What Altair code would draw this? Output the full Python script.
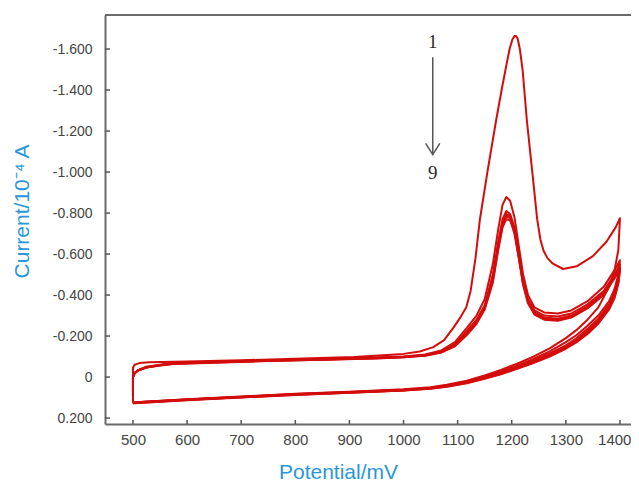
import altair as alt
import pandas as pd

# ---------------- data ----------------
# cycle 1 forward scan (potential mV, current 1e-4 A; negative = anodic, drawn upward)
c1_fwd_E = [500, 500, 503, 512, 530, 600, 700, 800, 909, 1000, 1030, 1055, 1075, 1092, 1106, 1116,
            1124, 1133, 1141, 1155, 1171, 1182, 1190, 1196, 1201, 1205, 1208, 1211, 1215, 1220, 1228,
            1238, 1247, 1253, 1259, 1266, 1276, 1295, 1320, 1350, 1375, 1392, 1400]
c1_fwd_I = [0.12, -0.045, -0.06, -0.068, -0.072, -0.076, -0.082, -0.089, -0.098, -0.113, -0.125,
            -0.146, -0.18, -0.24, -0.295, -0.34, -0.42, -0.58, -0.766, -1.0, -1.25, -1.41, -1.52,
            -1.60, -1.645, -1.663, -1.664, -1.65, -1.60, -1.50, -1.25, -1.0, -0.77, -0.67, -0.615,
            -0.58, -0.553, -0.527, -0.54, -0.59, -0.66, -0.73, -0.775]

# forward scans of cycles 2..9 share one potential grid
inner_fwd_E = [500, 500, 503, 510, 525, 550, 575, 650, 750, 850, 950, 1000, 1040, 1070, 1095, 1117,
               1135, 1150, 1165, 1175, 1183, 1190, 1197, 1205, 1213, 1221, 1230, 1242, 1260, 1285,
               1310, 1340, 1370, 1392, 1400]
c2_fwd_I = [0.124, 0.0, -0.02, -0.035, -0.05, -0.06, -0.068, -0.074, -0.082, -0.088, -0.095, -0.10,
            -0.11, -0.13, -0.17, -0.24, -0.30, -0.38, -0.55, -0.72, -0.84, -0.878, -0.86, -0.78,
            -0.64, -0.50, -0.40, -0.34, -0.315, -0.31, -0.325, -0.37, -0.44, -0.53, -0.57]
c3_fwd_I = [0.125, 0.0, -0.02, -0.034, -0.049, -0.059, -0.067, -0.073, -0.081, -0.087, -0.094, -0.099,
            -0.108, -0.126, -0.16, -0.225, -0.28, -0.35, -0.50, -0.66, -0.77, -0.81, -0.795, -0.73,
            -0.60, -0.47, -0.38, -0.325, -0.30, -0.295, -0.31, -0.355, -0.42, -0.51, -0.55]
c5_fwd_I = [0.126, 0.0, -0.019, -0.033, -0.048, -0.058, -0.066, -0.072, -0.080, -0.086, -0.093, -0.098,
            -0.106, -0.123, -0.155, -0.215, -0.27, -0.34, -0.48, -0.64, -0.75, -0.795, -0.785, -0.72,
            -0.59, -0.46, -0.37, -0.315, -0.29, -0.285, -0.30, -0.345, -0.41, -0.50, -0.535]
c7_fwd_I = [0.127, 0.0, -0.019, -0.033, -0.047, -0.057, -0.065, -0.071, -0.079, -0.085, -0.092, -0.097,
            -0.105, -0.121, -0.152, -0.21, -0.265, -0.335, -0.47, -0.63, -0.74, -0.785, -0.775, -0.71,
            -0.585, -0.455, -0.365, -0.31, -0.285, -0.28, -0.295, -0.34, -0.405, -0.495, -0.525]
c9_fwd_I = [0.128, 0.0, -0.018, -0.032, -0.046, -0.056, -0.064, -0.070, -0.078, -0.084, -0.091, -0.096,
            -0.104, -0.12, -0.15, -0.205, -0.26, -0.33, -0.46, -0.62, -0.73, -0.77, -0.765, -0.70,
            -0.58, -0.45, -0.36, -0.305, -0.28, -0.275, -0.29, -0.335, -0.40, -0.49, -0.52]

# reverse scans share one potential grid
rev_E = [1400, 1397, 1390, 1380, 1360, 1340, 1320, 1300, 1270, 1240, 1210, 1180, 1150, 1117, 1080,
         1050, 1000, 900, 800, 700, 600, 520, 500]
c1_rev_I = [-0.775, -0.62, -0.52, -0.44, -0.34, -0.28, -0.23, -0.19, -0.14, -0.10, -0.065, -0.035,
            -0.008, 0.018, 0.038, 0.05, 0.06, 0.072, 0.082, 0.095, 0.108, 0.12, 0.124]
c2_rev_I = [-0.57, -0.50, -0.43, -0.37, -0.30, -0.25, -0.205, -0.17, -0.125, -0.088, -0.056, -0.028,
            -0.003, 0.022, 0.041, 0.053, 0.062, 0.073, 0.083, 0.096, 0.109, 0.121, 0.125]
c3_rev_I = [-0.55, -0.48, -0.41, -0.355, -0.285, -0.235, -0.19, -0.155, -0.115, -0.08, -0.05, -0.022,
            0.002, 0.025, 0.043, 0.054, 0.063, 0.074, 0.084, 0.097, 0.11, 0.122, 0.126]
c5_rev_I = [-0.535, -0.47, -0.40, -0.345, -0.275, -0.225, -0.18, -0.148, -0.108, -0.075, -0.046,
            -0.019, 0.004, 0.026, 0.044, 0.055, 0.064, 0.075, 0.085, 0.098, 0.111, 0.123, 0.127]
c7_rev_I = [-0.525, -0.462, -0.392, -0.337, -0.267, -0.217, -0.175, -0.143, -0.104, -0.071, -0.043,
            -0.016, 0.006, 0.028, 0.046, 0.056, 0.065, 0.076, 0.086, 0.099, 0.112, 0.124, 0.128]
c9_rev_I = [-0.52, -0.455, -0.385, -0.33, -0.26, -0.21, -0.17, -0.138, -0.10, -0.068, -0.04, -0.014,
            0.008, 0.03, 0.047, 0.057, 0.066, 0.077, 0.087, 0.10, 0.113, 0.125, 0.128]

x_ticks = [500, 600, 700, 800, 900, 1000, 1100, 1200, 1300, 1400]
y_ticks = [-1.6, -1.4, -1.2, -1.0, -0.8, -0.6, -0.4, -0.2, 0.0, 0.2]

# annotation "1 -> 9"
ann_E = [1054, 1054]
ann_I = [-1.634, -0.995]
ann_text = ["1", "9"]
arrow_E = [1054]
arrow_top = [-1.56]
arrow_tip = [-1.085]

# ---------------- build table ----------------
cycles = [
    ("1", c1_fwd_E, c1_fwd_I, c1_rev_I),
    ("2", inner_fwd_E, c2_fwd_I, c2_rev_I),
    ("3", inner_fwd_E, c3_fwd_I, c3_rev_I),
    ("5", inner_fwd_E, c5_fwd_I, c5_rev_I),
    ("7", inner_fwd_E, c7_fwd_I, c7_rev_I),
    ("9", inner_fwd_E, c9_fwd_I, c9_rev_I),
]
rows = []
for name, fE, fI, rI in cycles:
    seq = 0
    for e, i in zip(fE, fI):
        rows.append({"cycle": name, "E": e, "I": i, "k": seq}); seq += 1
    for e, i in zip(rev_E, rI):
        rows.append({"cycle": name, "E": e, "I": i, "k": seq}); seq += 1
df = pd.DataFrame(rows)

W, H = 526, 409
RED = "#d30c0c"
BLUE = "#2a97dc"
AXC = "#6a6a6a"

xscale = alt.Scale(domain=[448.3, 1420.4], nice=False, zero=False)
yscale = alt.Scale(domain=[-1.766, 0.229], nice=False, zero=False, reverse=True)

x_axis = alt.Axis(values=x_ticks, title="Potential/mV", grid=False, tickSize=0, format="d",
                  labelPadding=8, labelFontSize=15, labelColor="#444444",
                  labelFont="Liberation Sans", domainColor=AXC, domainWidth=2,
                  labelAlign={"condition": {"test": "datum.value == 1400", "value": "right"},
                              "value": "center"},
                  labelOffset={"condition": {"test": "datum.value == 1400", "value": 11},
                               "value": 0},
                  titleColor=BLUE, titleFontSize=21, titleFontWeight="normal",
                  titleFont="Liberation Sans", titleX=233, titleY=54,
                  titleBaseline="alphabetic", titleAlign="center")
y_axis = alt.Axis(values=y_ticks, title="Current/10\u207B\u2074 A", grid=False, tickSize=0,
                  labelPadding=13, labelFontSize=14, labelColor="#444444",
                  labelFont="Liberation Sans", domainColor=AXC, domainWidth=2,
                  labelExpr="(datum.value < 0 ? '-' : '') + (datum.value == 0 ? '0' : format(abs(datum.value), '.3f'))",
                  titleColor=BLUE, titleFontSize=21, titleFontWeight="normal",
                  titleFont="Liberation Sans", titleX=-83, titleY=196, titleAngle=270,
                  titleBaseline="middle", titleAlign="center")

lines = alt.Chart(df).mark_line(color=RED, strokeWidth=2, strokeJoin="round").encode(
    x=alt.X("E:Q", scale=xscale, axis=x_axis),
    y=alt.Y("I:Q", scale=yscale, axis=y_axis),
    detail="cycle:N",
    order="k:Q",
)

top_border = alt.Chart(pd.DataFrame({"a": [0]})).mark_rule(color=AXC, strokeWidth=2).encode(
    x=alt.value(0), x2=alt.value(W), y=alt.value(0))

yt = alt.Chart(pd.DataFrame({"I": y_ticks})).mark_rule(color="#555555", strokeWidth=1.5).encode(
    y=alt.Y("I:Q", scale=yscale, axis=y_axis), x=alt.value(0), x2=alt.value(5))
xt = alt.Chart(pd.DataFrame({"E": x_ticks})).mark_rule(color="#555555", strokeWidth=1.5).encode(
    x=alt.X("E:Q", scale=xscale, axis=x_axis), y=alt.value(H), y2=alt.value(H - 4))

ann = alt.Chart(pd.DataFrame({"E": ann_E, "I": ann_I, "t": ann_text})).mark_text(
    font="Liberation Serif", fontSize=19, color="#2a2a2a", baseline="middle", align="center"
).encode(x=alt.X("E:Q", scale=xscale, axis=x_axis), y=alt.Y("I:Q", scale=yscale, axis=y_axis),
         text="t:N")

arrow = alt.Chart(pd.DataFrame({"E": arrow_E, "I": arrow_top, "b": arrow_tip})).mark_rule(
    color="#555555", strokeWidth=1.5).encode(
    x=alt.X("E:Q", scale=xscale, axis=x_axis), y=alt.Y("I:Q", scale=yscale, axis=y_axis), y2="b:Q")
head = alt.Chart(pd.DataFrame({"E": arrow_E, "I": arrow_tip})).mark_point(
    shape="M -1 -1.6 L 0 0 L 1 -1.6", filled=False, size=200, color="#555555", strokeWidth=1.5,
    opacity=1).encode(x=alt.X("E:Q", scale=xscale, axis=x_axis),
                      y=alt.Y("I:Q", scale=yscale, axis=y_axis))

chart = alt.layer(lines, top_border, yt, xt, ann, arrow, head).properties(
    width=W, height=H,
    autosize=alt.AutoSizeParams(type="none"),
    padding={"left": 97, "top": 7, "right": 0, "bottom": 57},
    background="white",
).configure_view(stroke=None)

chart.save("out.html", embed_options={"renderer": "svg", "actions": False})
